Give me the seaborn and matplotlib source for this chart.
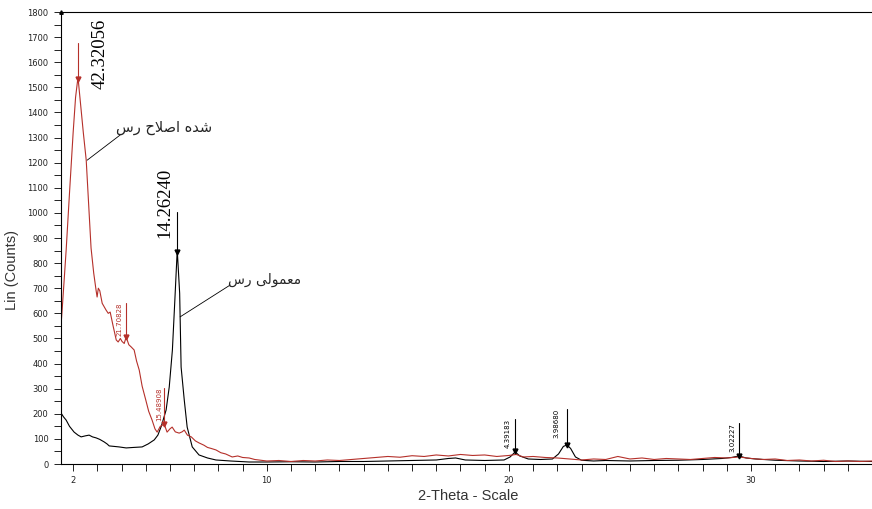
import numpy as np
import pandas as pd
import seaborn as sns
import matplotlib.pyplot as plt
from matplotlib.ticker import MultipleLocator, FixedLocator

# modified clay (red)
theta_mod = [1.50, 1.55, 1.62, 1.71, 1.85, 2.00, 2.10, 2.20, 2.30, 2.42, 2.54, 2.66, 2.74, 2.85,
             2.95, 2.99, 3.04, 3.10, 3.20, 3.36, 3.45, 3.53, 3.65, 3.78, 3.86, 3.95, 4.02, 4.11,
             4.19, 4.30, 4.40, 4.52, 4.62, 4.73, 4.85, 5.00, 5.12, 5.26, 5.38, 5.47, 5.60, 5.76,
             5.88, 6.00, 6.09, 6.22, 6.38, 6.50, 6.59, 6.72, 6.88, 7.05, 7.20, 7.40, 7.55, 7.70,
             7.90, 8.10, 8.30, 8.57, 8.80, 9.00, 9.27, 9.50, 9.75, 10.0, 10.5, 11.0, 11.5, 12.0,
             12.5, 13.0, 13.5, 14.0, 14.5, 15.0, 15.5, 16.0, 16.5, 17.0, 17.5, 18.0, 18.5, 19.0,
             19.5, 20.0, 20.3, 20.6, 21.0, 21.5, 22.0, 22.5, 23.0, 23.5, 24.0, 24.5, 25.0, 25.5,
             26.0, 26.5, 27.0, 27.5, 28.0, 28.5, 29.0, 29.5, 30.0, 30.5, 31.0, 31.5, 32.0, 32.5,
             33.0, 33.5, 34.0, 34.5, 35.0]
counts_mod = [553, 620, 720, 850, 1080, 1320, 1460, 1540, 1440, 1320, 1210, 1000, 860, 760,
              690, 665, 700, 690, 640, 613, 600, 605, 550, 494, 486, 500, 488, 480,
              506, 475, 466, 454, 410, 374, 310, 255, 210, 175, 140, 127, 150, 159,
              127, 140, 147, 128, 123, 128, 135, 115, 108, 92, 84, 75, 66, 62,
              56, 45, 40, 28, 32, 26, 24, 18, 15, 12, 14, 10, 14, 12,
              16, 14, 18, 22, 26, 30, 27, 33, 30, 36, 32, 38, 34, 36,
              30, 34, 38, 28, 30, 26, 24, 20, 16, 20, 18, 30, 20, 24,
              18, 22, 20, 18, 22, 26, 24, 28, 22, 18, 20, 14, 16, 12,
              15, 10, 12, 10, 12]

# ordinary clay (black)
theta_raw = [1.50, 1.60, 1.71, 1.85, 2.04, 2.20, 2.33, 2.50, 2.66, 2.80, 2.95, 3.10, 3.28, 3.40,
             3.49, 3.70, 3.90, 4.19, 4.50, 4.85, 5.10, 5.35, 5.50, 5.64, 5.84, 5.97, 6.10, 6.20,
             6.30, 6.40, 6.46, 6.59, 6.71, 6.92, 7.20, 7.55, 7.90, 8.50, 9.27, 10.0, 11.0, 12.0,
             13.0, 14.0, 15.0, 16.0, 17.0, 17.5, 17.8, 18.2, 19.0, 19.8, 20.05, 20.26, 20.45, 20.8,
             21.3, 21.8, 22.05, 22.25, 22.4, 22.55, 22.75, 23.0, 23.5, 24.0, 25.0, 26.0, 27.0, 28.0,
             28.8, 29.2, 29.5, 29.8, 30.2, 31.0, 32.0, 33.0, 34.0, 35.0]
counts_raw = [203, 188, 175, 150, 127, 115, 108, 112, 115, 108, 104, 98, 88, 80,
              72, 70, 68, 64, 66, 68, 80, 96, 115, 150, 215, 307, 454, 650,
              852, 680, 386, 255, 147, 68, 36, 24, 16, 12, 8, 8, 9, 8,
              10, 10, 12, 14, 16, 22, 24, 16, 14, 16, 28, 48, 32, 20,
              18, 20, 40, 70, 76, 62, 28, 15, 12, 14, 12, 14, 15, 18,
              22, 26, 32, 24, 20, 15, 12, 10, 12, 10]

# peak labels: position, marker height, arrow top, text
peak_x = [2.20, 4.19, 5.76, 6.30, 20.26, 22.40, 29.50]
peak_y = [1534, 506, 159, 845, 50, 76, 32]
peak_top = [1677, 641, 303, 1004, 179, 219, 163]
peak_label = ["42.32056", "21.70828", "15.48908", "14.26240", "4.39183", "3.98680", "3.02227"]
peak_color = ["#b5302a", "#b5302a", "#b5302a", "black", "black", "black", "black"]
label_x = [3.10, 3.90, 5.55, 5.78, 19.93, 21.96, 29.23]
label_top = [1775, 645, 303, 1178, 179, 219, 163]
label_big = [True, False, False, True, False, False, False]

name_mod = "رس اصلاح شده"
name_raw = "رس معمولی"

# Persian shaping by hand: matplotlib does no joining or right-to-left
FORMS = {
    'ا': ('\uFE8D', '\uFE8E', None, None),
    'د': ('\uFEA9', '\uFEAA', None, None),
    'ر': ('\uFEAD', '\uFEAE', None, None),
    'و': ('\uFEED', '\uFEEE', None, None),
    'ح': ('\uFEA1', '\uFEA2', '\uFEA3', '\uFEA4'),
    'س': ('\uFEB1', '\uFEB2', '\uFEB3', '\uFEB4'),
    'ش': ('\uFEB5', '\uFEB6', '\uFEB7', '\uFEB8'),
    'ص': ('\uFEB9', '\uFEBA', '\uFEBB', '\uFEBC'),
    'ع': ('\uFEC9', '\uFECA', '\uFECB', '\uFECC'),
    'ل': ('\uFEDD', '\uFEDE', '\uFEDF', '\uFEE0'),
    'م': ('\uFEE1', '\uFEE2', '\uFEE3', '\uFEE4'),
    'ه': ('\uFEE9', '\uFEEA', '\uFEEB', '\uFEEC'),
    'ی': ('\uFBFC', '\uFBFD', '\uFBFE', '\uFBFF'),
}


def shape_word(text):
    out = []
    i = 0
    while i < len(text):
        c = text[i]
        prev = FORMS.get(text[i - 1]) if i > 0 else None
        prev_joins = prev is not None and prev[2] is not None
        if c == 'ل' and i + 1 < len(text) and text[i + 1] == 'ا':
            out.append('\uFEFC' if prev_joins else '\uFEFB')
            i += 2
            continue
        f = FORMS[c]
        next_joins = f[2] is not None and i + 1 < len(text)
        if prev_joins and next_joins:
            out.append(f[3])
        elif prev_joins:
            out.append(f[1])
        elif next_joins:
            out.append(f[2])
        else:
            out.append(f[0])
        i += 1
    return ''.join(reversed(out))


def shape(text):
    # the reference keeps the words left to right, each word shaped on its own
    return ' '.join(shape_word(w) for w in text.split(' '))


sns.set_style("ticks")
plt.rcParams['font.family'] = ['DejaVu Sans']

fig = plt.figure(figsize=(8.72, 5.09), dpi=100)
ax = fig.add_axes([0.070, 0.0884, 0.930, 0.888])

df_mod = pd.DataFrame({"theta": theta_mod, "counts": counts_mod})
df_raw = pd.DataFrame({"theta": theta_raw, "counts": counts_raw})

sns.lineplot(data=df_raw, x="theta", y="counts", color="black", linewidth=0.8,
             estimator=None, sort=False, ax=ax)
sns.lineplot(data=df_mod, x="theta", y="counts", color="#b5302a", linewidth=0.8,
             estimator=None, sort=False, ax=ax)

# peak arrows and d-spacing labels
for i in range(len(peak_x)):
    c = peak_color[i]
    ax.plot([peak_x[i], peak_x[i]], [peak_top[i], peak_y[i]], color=c, lw=0.8)
    ax.plot(peak_x[i], peak_y[i], marker="v", color=c, markersize=3.5, lw=0)
    if label_big[i]:
        ax.text(label_x[i], label_top[i], peak_label[i], rotation=90, ha="center", va="top",
                fontsize=13.5, family="Liberation Serif", color="black")
    else:
        ax.text(label_x[i], label_top[i], peak_label[i], rotation=90, ha="center", va="top",
                fontsize=5, color=c)

# curve names with leader lines
ax.text(5.76, 1341, shape(name_mod), ha="center", va="center", fontsize=10.5,
        family="DejaVu Sans")
ax.plot([3.94, 2.58], [1310, 1210], color="black", lw=0.6)
ax.text(9.92, 733, shape(name_raw), ha="center", va="center", fontsize=10,
        family="DejaVu Sans")
ax.plot([8.49, 6.42], [713, 586], color="black", lw=0.6)

# little arrow head on top of the y axis
ax.plot(1.5, 1800, marker="^", color="black", markersize=2.5, clip_on=False)

ax.set_xlim(1.5, 35)
ax.set_ylim(0, 1800)
ax.xaxis.set_major_locator(FixedLocator([2, 10, 20, 30]))
ax.xaxis.set_minor_locator(MultipleLocator(1))
ax.yaxis.set_major_locator(MultipleLocator(100))
ax.yaxis.set_minor_locator(MultipleLocator(50))
ax.tick_params(axis="both", which="both", direction="out", length=5, width=0.7,
               colors="#222222", labelsize=6)
ax.tick_params(axis="y", pad=4)
ax.tick_params(axis="x", pad=3.5)

for s in ["left", "bottom", "top"]:
    ax.spines[s].set_linewidth(0.8)
    ax.spines[s].set_color("black")
ax.spines["right"].set_visible(False)

ax.set_xlabel("2-Theta - Scale", fontsize=10.5, family="Liberation Sans", color="#333333")
ax.set_ylabel("Lin (Counts)", fontsize=10.5, family="Liberation Sans", color="#333333")
ax.xaxis.set_label_coords(0.502, -0.055)
ax.yaxis.set_label_coords(-0.052, 0.43)

fig.savefig("out.png", dpi=100)
